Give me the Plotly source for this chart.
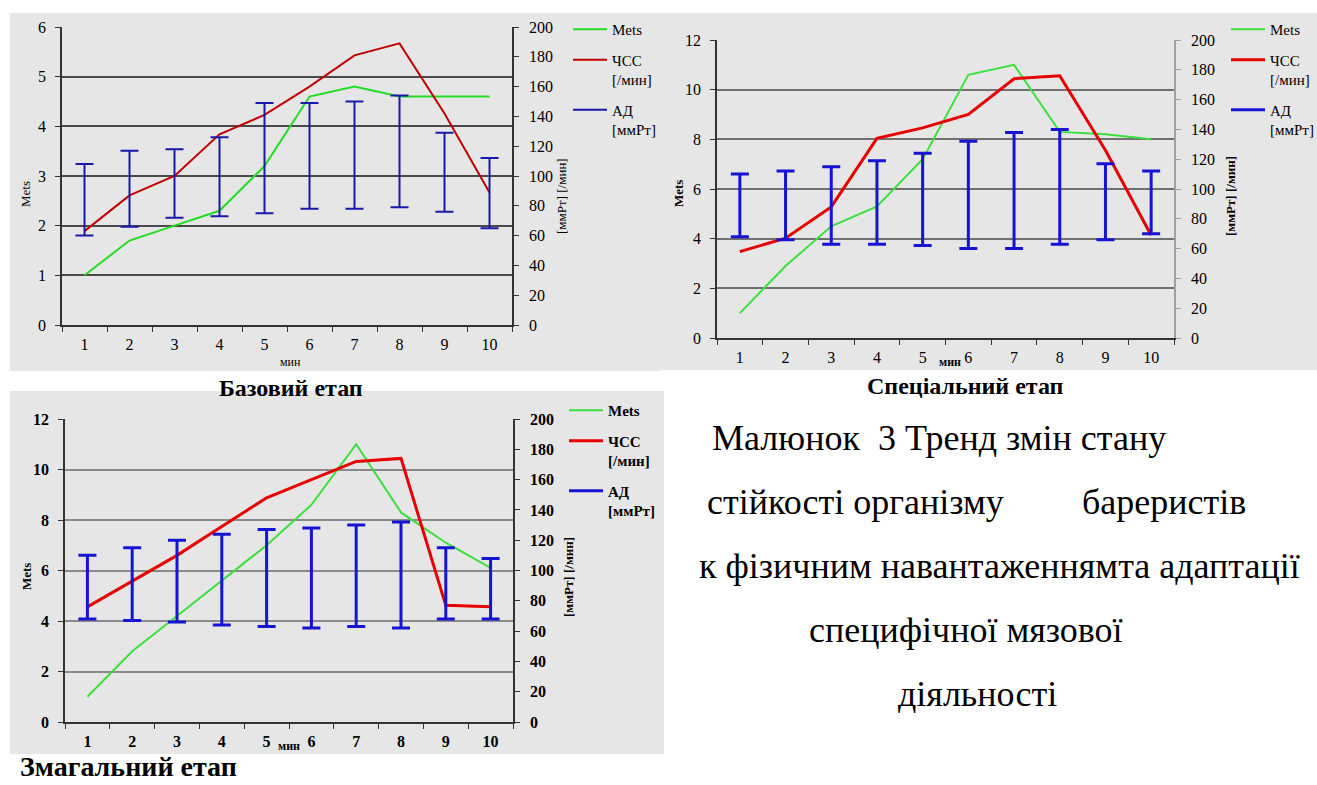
import plotly.graph_objects as go

W, H = 1317, 785
FONT = "Liberation Serif"

# ---------------- data ----------------
minutes = ["1", "2", "3", "4", "5", "6", "7", "8", "9", "10"]

# Базовий етап
base_mets = [1.0, 1.7, 2.0, 2.3, 3.2, 4.6, 4.8, 4.6, 4.6, 4.6]
base_hr = [63, 87, 100, 128, 141, 160, 181, 189, 142, 89]
base_bp_sys = [108, 117, 118, 126, 149, 149, 150, 154, 129, 112]
base_bp_dia = [60, 66, 72, 73, 75, 78, 78, 79, 76, 65]

# Спеціальний етап
spec_mets = [1.0, 2.9, 4.5, 5.3, 7.2, 10.6, 11.0, 8.3, 8.2, 8.0]
spec_hr = [58, 67, 88, 134, 141, 150, 174, 176, 126, 69]
spec_bp_sys = [110, 112, 115, 119, 124, 132, 138, 140, 117, 112]
spec_bp_dia = [68, 66, 63, 63, 62, 60, 60, 63, 66, 70]

# Змагальний етап
comp_mets = [1.0, 2.8, 4.2, 5.6, 7.0, 8.6, 11.0, 8.3, 7.1, 6.1]
comp_hr = [76, 93, 110, 129, 148, 160, 172, 174, 77, 76]
comp_bp_sys = [110, 115, 120, 124, 127, 128, 130, 132, 115, 108]
comp_bp_dia = [68, 67, 66, 64, 63, 62, 63, 62, 68, 68]

left_ranges = [[0, 6], [0, 12], [0, 12]]
left_dticks = [1, 2, 2]
right_range = [0, 200]
right_dtick = 20

names = ["Mets", "ЧСС<br>[/мин]", "АД<br>[ммРт]"]
captions = ["Базовий етап", "Спеціальний етап", "Змагальний етап"]
left_title = "Mets"
right_title = "[ммРт] [/мин]"
x_title = "мин"
text_lines = [
    "Малюнок\u00a0\u00a03 Тренд змін стану",
    "стійкості організму",
    "бареристів",
    "к фізичним навантаженнямта адаптації",
    "специфічної мязової",
    "діяльності",
]

# ---------------- helpers ----------------
def fx(p):
    return p / W


def fy(p):
    return 1 - p / H


def font(size, bold=False):
    f = dict(family=FONT, size=size, color="black")
    if bold:
        f["weight"] = "bold"
    return f


panels = [
    dict(mets=base_mets, hr=base_hr, sys=base_bp_sys, dia=base_bp_dia,
         xdom=(62, 512), ydom=(27, 325), xa="x", yl="y", yr="y2",
         legend="legend", green="#22dd22", red="#c00000", blue="#1a1aaa",
         w_red=2, w_green=2, eb=2, grid="#4a4a4a", rline="#333333",
         bold=False, leg=(568, 13)),
    dict(mets=spec_mets, hr=spec_hr, sys=spec_bp_sys, dia=spec_bp_dia,
         xdom=(717, 1174), ydom=(40, 338), xa="x2", yl="y3", yr="y4",
         legend="legend2", green="#3ce03c", red="#e60000", blue="#1414d2",
         w_red=3, w_green=2, eb=3, grid="#707070", rline="#a0a0a0",
         bold=False, leg=(1226, 13)),
    dict(mets=comp_mets, hr=comp_hr, sys=comp_bp_sys, dia=comp_bp_dia,
         xdom=(65, 513), ydom=(419, 722), xa="x3", yl="y5", yr="y6",
         legend="legend3", green="#3ce03c", red="#e60000", blue="#1414d2",
         w_red=3, w_green=2, eb=3, grid="#8a8a8a", rline="#333333",
         bold=True, leg=(564, 394)),
]

fig = go.Figure()

for i, p in enumerate(panels):
    fig.add_trace(go.Scatter(
        x=minutes, y=p["mets"], mode="lines", name=names[0],
        line=dict(color=p["green"], width=p["w_green"]),
        xaxis=p["xa"], yaxis=p["yl"], legend=p["legend"],
        legendgroup=f"m{i}"))
    fig.add_trace(go.Scatter(
        x=minutes, y=p["hr"], mode="lines", name=names[1],
        line=dict(color=p["red"], width=p["w_red"]),
        xaxis=p["xa"], yaxis=p["yr"], legend=p["legend"],
        legendgroup=f"h{i}"))
    fig.add_trace(go.Scatter(
        x=minutes, y=p["sys"], mode="markers", showlegend=False,
        marker=dict(size=1, color="rgba(0,0,0,0)"),
        error_y=dict(type="data", symmetric=False,
                     array=[0] * len(minutes),
                     arrayminus=[s - d for s, d in zip(p["sys"], p["dia"])],
                     color=p["blue"], thickness=p["eb"], width=9),
        xaxis=p["xa"], yaxis=p["yr"], legendgroup=f"b{i}"))
    # legend entry for the blood pressure bars
    fig.add_trace(go.Scatter(
        x=[None], y=[None], mode="lines", name=names[2],
        line=dict(color=p["blue"], width=p["eb"]),
        xaxis=p["xa"], yaxis=p["yr"], legend=p["legend"],
        legendgroup=f"b{i}"))

layout = dict(
    width=W, height=H,
    margin=dict(l=0, r=0, t=0, b=0, autoexpand=False),
    paper_bgcolor="white",
    plot_bgcolor="rgba(0,0,0,0)",
    font=dict(family=FONT, color="black"),
    shapes=[],
    annotations=[],
)

ax_names = [("xaxis", "yaxis", "yaxis2"), ("xaxis2", "yaxis3", "yaxis4"),
            ("xaxis3", "yaxis5", "yaxis6")]

bg_rects = [(10, 13, 660, 371), (660, 13, 1317, 370), (10, 391, 664, 754)]
for (x0, y0, x1, y1) in bg_rects:
    layout["shapes"].append(dict(
        type="rect", xref="paper", yref="paper", layer="below",
        x0=fx(x0), x1=fx(x1), y0=fy(y1), y1=fy(y0),
        fillcolor="#e6e6e6", line=dict(width=0)))

for i, p in enumerate(panels):
    xn, yln, yrn = ax_names[i]
    tfont = font(16, p["bold"])
    xdom = [fx(p["xdom"][0]), fx(p["xdom"][1])]
    ydom = [fy(p["ydom"][1]), fy(p["ydom"][0])]
    layout[xn] = dict(
        domain=xdom, anchor=p["yl"], type="category",
        range=[-0.5, len(minutes) - 0.5], tickson="boundaries",
        ticks="outside", ticklen=5, tickcolor="#333333",
        showline=True, linecolor="#333333", linewidth=1.5,
        showgrid=False, zeroline=False, tickfont=tfont,
        ticklabelstandoff=4, automargin=False)
    layout[yln] = dict(
        domain=ydom, anchor=p["xa"], range=left_ranges[i],
        dtick=left_dticks[i], tick0=0,
        ticks="outside", ticklen=5, tickcolor="#333333",
        showline=True, linecolor="#333333", linewidth=1.5,
        showgrid=True, gridcolor=p["grid"], gridwidth=1.5,
        zeroline=False, tickfont=tfont, ticklabelstandoff=6,
        automargin=False)
    layout[yrn] = dict(
        overlaying=p["yl"], side="right", anchor=p["xa"],
        range=right_range, dtick=right_dtick, tick0=0,
        ticks="outside", ticklen=5, tickcolor=p["rline"],
        showline=True, linecolor=p["rline"], linewidth=1.5,
        showgrid=False, zeroline=False, tickfont=tfont,
        ticklabelstandoff=7, automargin=False)
    lx, ly = p["leg"]
    layout[p["legend"]] = dict(
        x=fx(lx), y=fy(ly), xanchor="left", yanchor="top",
        bgcolor="rgba(0,0,0,0)", borderwidth=0, valign="top",
        tracegroupgap=8, itemwidth=34,
        font=font(15, p["bold"]))

ann = layout["annotations"]


def add_text(text, x, y, size, bold=False, xanchor="center", angle=0,
             yanchor="middle"):
    ann.append(dict(
        text=text, x=fx(x), y=fy(y), xref="paper", yref="paper",
        xanchor=xanchor, yanchor=yanchor, showarrow=False,
        textangle=angle, font=font(size, bold)))


# axis titles
add_text(x_title, 290, 362, 12)
add_text(x_title, 950, 362, 12, bold=True)
add_text(x_title, 289, 746, 12, bold=True)
add_text(left_title, 26, 194, 13, angle=-90)
add_text(left_title, 679, 194, 13, bold=True, angle=-90)
add_text(left_title, 26, 577, 13, bold=True, angle=-90)
add_text(right_title, 562, 196, 13, angle=-90)
add_text(right_title, 1231, 196, 13, bold=True, angle=-90)
add_text(right_title, 568, 577, 13, bold=True, angle=-90)

# captions
add_text(captions[0], 291, 388, 24, bold=True)
add_text(captions[1], 965, 386, 24, bold=True)
add_text(captions[2], 18, 784, 28, bold=True, xanchor="left",
         yanchor="bottom")

# figure caption text
add_text(text_lines[0], 710, 438, 36, xanchor="left")
add_text(text_lines[1], 705, 502, 36, xanchor="left")
add_text(text_lines[2], 1080, 502, 36, xanchor="left")
add_text(text_lines[3], 697, 566, 36, xanchor="left")
add_text(text_lines[4], 966, 630, 36)
add_text(text_lines[5], 977, 694, 36)

fig.update_layout(**layout)
fig.write_html("out.html")
